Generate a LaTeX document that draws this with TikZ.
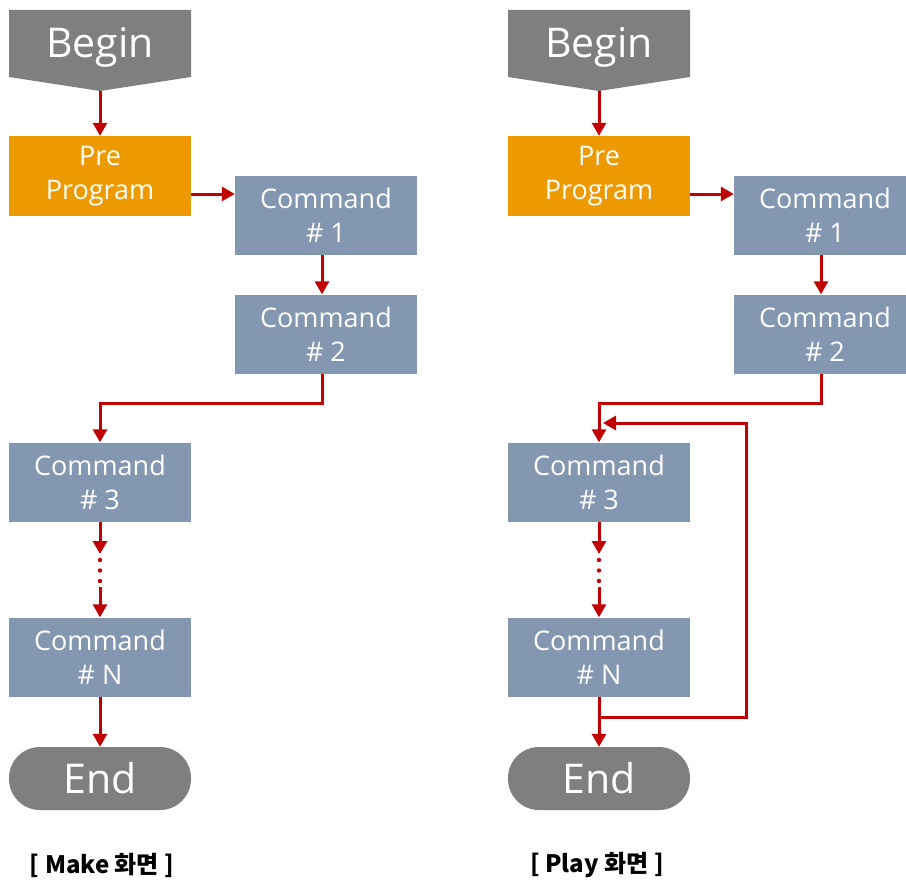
\documentclass[tikz,border=0pt]{standalone}
\usepackage{fontspec}
\setmainfont{Open Sans}
\newfontfamily\krfont{Noto Sans CJK KR}
\usetikzlibrary{arrows.meta}
\definecolor{termGray}{HTML}{7F7F7F}
\definecolor{cmdBlue}{HTML}{8497B0}
\definecolor{preOrange}{HTML}{EC9A00}
\definecolor{linkRed}{HTML}{C00000}
\begin{document}
\begin{tikzpicture}[x=1pt, y=-1pt,
    box/.style={minimum width=182pt, minimum height=79pt, inner sep=0pt,
        align=center, text=white, font=\fontsize{27}{34}\selectfont},
    cmdbox/.style={box, fill=cmdBlue},
    prebox/.style={box, fill=preOrange, minimum height=80pt},
    termtext/.style={text=white, font=\fontsize{41}{48}\selectfont},
    endbox/.style={termtext, fill=termGray, rounded corners=31pt,
        minimum width=182pt, minimum height=63pt, inner sep=0pt},
    link/.style={draw=linkRed, line width=3pt,
        -{Triangle[length=13pt,width=14pt]}},
    caption/.style={font=\krfont\bfseries\fontsize{24}{28}\selectfont}]
    \useasboundingbox (0,0) rectangle (906,883);

    % Make screen
    \fill[termGray] (9,10) -- (191,10) -- (191,77) -- (100,91) -- (9,77) -- cycle;
    \node[termtext] (beginL) at (100,47) {Begin};
    \coordinate (beginTipL) at (100,91);
    \node[prebox] (preL) at (100,176) {Pre\\Program};
    \node[cmdbox] (cmd1L) at (326,215) {Command\\\# 1};
    \node[cmdbox] (cmd2L) at (326,334) {Command\\\# 2};
    \node[cmdbox] (cmd3L) at (100,482) {Command\\\# 3};
    \node[cmdbox] (cmdNL) at (100,657) {Command\\\# N};
    \node[endbox] (endL) at (100,778.5) {End};
    \coordinate (dotsTopL) at (100,554);
    \coordinate (dotsBotL) at (100,587);

    \draw[link] (beginTipL) -- (preL);
    \draw[link] ([yshift=-18pt]preL.east) -- ([yshift=-18pt]preL.east -| cmd1L.west);
    \draw[link] ([xshift=-4pt]cmd1L.south) -- ([xshift=-4pt]cmd2L.north);
    \draw[link] ([xshift=-4pt]cmd2L.south) -- ++(0,30) -| (cmd3L.north);
    \draw[link] (cmd3L) -- (dotsTopL);
    \fill[linkRed] (100,560) circle (2.2pt) (100,570.5) circle (2.2pt) (100,581) circle (2.2pt);
    \draw[link] (dotsBotL) -- (cmdNL);
    \draw[link] (cmdNL) -- (endL);

    \node[caption] (capL) at (102,865) {[ Make 화면 ]};

    % Play screen
    \fill[termGray] (508,10) -- (690,10) -- (690,77) -- (599,91) -- (508,77) -- cycle;
    \node[termtext] (beginR) at (599,47) {Begin};
    \coordinate (beginTipR) at (599,91);
    \node[prebox] (preR) at (599,176) {Pre\\Program};
    \node[cmdbox] (cmd1R) at (825,215) {Command\\\# 1};
    \node[cmdbox] (cmd2R) at (825,334) {Command\\\# 2};
    \node[cmdbox] (cmd3R) at (599,482) {Command\\\# 3};
    \node[cmdbox] (cmdNR) at (599,657) {Command\\\# N};
    \node[endbox] (endR) at (599,778.5) {End};
    \coordinate (dotsTopR) at (599,554);
    \coordinate (dotsBotR) at (599,587);
    \coordinate (loopR) at (746,423);

    \draw[link] (beginTipR) -- (preR);
    \draw[link] ([yshift=-18pt]preR.east) -- ([yshift=-18pt]preR.east -| cmd1R.west);
    \draw[link] ([xshift=-4pt]cmd1R.south) -- ([xshift=-4pt]cmd2R.north);
    \draw[link] ([xshift=-4pt]cmd2R.south) -- ++(0,30) -| (cmd3R.north);
    \draw[link] (cmd3R) -- (dotsTopR);
    \fill[linkRed] (599,560) circle (2.2pt) (599,570.5) circle (2.2pt) (599,581) circle (2.2pt);
    \draw[link] (dotsBotR) -- (cmdNR);
    \draw[link] (cmdNR) -- (endR);

    % Repeat loop
    \draw[link] ([yshift=-21pt]cmdNR.south) -| (loopR) -- ([xshift=4pt]loopR -| cmd3R.north);

    \node[caption] (capR) at (597,865) {[ Play 화면 ]};
\end{tikzpicture}
\end{document}
